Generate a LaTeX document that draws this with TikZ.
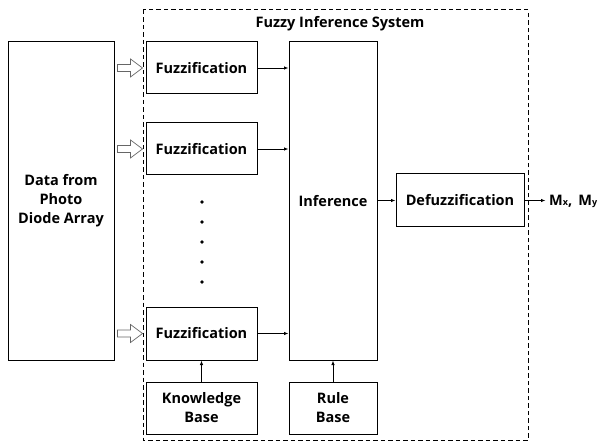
\documentclass[tikz,border=0pt]{standalone}
\usepackage{fontspec}
\setmainfont{Open Sans}
\usetikzlibrary{arrows.meta}
\begin{document}
\begin{tikzpicture}[x=1pt,y=-1pt,
  txt/.style={font=\bfseries\fontsize{14.5}{19}\selectfont},
  blk/.style={draw, line width=1pt, txt, align=center, inner sep=0pt},
  conn/.style={-{Latex[length=4.5pt,width=3.5pt]}, line width=0.8pt},
  hollow/.style={draw=gray!80!black, line width=0.7pt, fill=white}]
\useasboundingbox (0,0) rectangle (607,443);
% dashed system box
\draw[line width=1pt, dash pattern=on 4.5pt off 3pt] (143,10) rectangle (528,440);
\node[txt] (title) at (340,24) {Fuzzy Inference System};
% left box
\node[blk, minimum width=106pt, minimum height=318pt] (data) at (61,201) {Data from\\Photo\\Diode Array};
% fuzzification boxes
\node[blk, minimum width=111pt, minimum height=52pt] (f1) at (201.5,68) {Fuzzification};
\node[blk, minimum width=111pt, minimum height=52pt] (f2) at (201.5,149) {Fuzzification};
\node[blk, minimum width=111pt, minimum height=53pt] (f3) at (201.5,333.5) {Fuzzification};
\node[blk, minimum width=111pt, minimum height=52pt] (kb) at (201.5,408) {Knowledge\\Base};
\node[blk, minimum width=88pt, minimum height=318pt] (inf) at (333,201) {Inference};
\node[blk, minimum width=88pt, minimum height=52pt] (rb) at (333,408) {Rule\\Base};
\node[blk, minimum width=128pt, minimum height=53pt] (def) at (460,200.5) {Defuzzification};
\node[txt, anchor=west, inner sep=0pt] (out) at (549,201) {M{\fontsize{9}{10}\selectfont x}, \,M{\fontsize{9}{10}\selectfont y}};
% dots
\foreach \yy [count=\i] in {202,222,242,262,282}
  \fill (202,\yy) circle (1.9pt) node[inner sep=0pt] (dot\i) {};
% connectors
\draw[conn] (f1.east) -- (f1.east -| inf.west);
\draw[conn] (f2.east) -- (f2.east -| inf.west);
\draw[conn] (f3.east) -- (f3.east -| inf.west);
\draw[conn] (kb.north) -- (f3.south);
\draw[conn] (rb.north) -- (inf.south);
\draw[conn] (inf.east |- def.west) -- (def.west);
\draw[conn] (def.east) -- ([xshift=21pt]def.east) coordinate (outend);
% hollow arrows
\foreach \n in {f1,f2,f3} {
  \path (\n.west) coordinate (tip);
  \draw[hollow] ([shift={(-28pt,-3.5pt)}]tip) -- ([shift={(-15pt,-3.5pt)}]tip) -- ([shift={(-15pt,-9pt)}]tip)
    -- ([shift={(-3pt,0pt)}]tip) -- ([shift={(-15pt,9pt)}]tip) -- ([shift={(-15pt,3.5pt)}]tip)
    -- ([shift={(-28pt,3.5pt)}]tip) -- cycle;
}
\end{tikzpicture}
\end{document}
